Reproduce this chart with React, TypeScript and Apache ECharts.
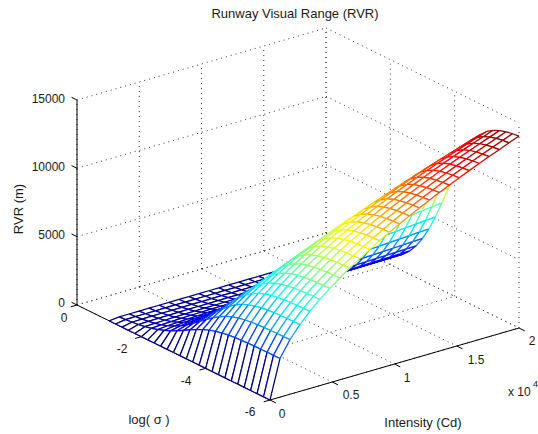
import React, { useEffect, useRef } from "react";
import * as echarts from "echarts";

// Tick labels
const zTicks = [0, 5000, 10000, 15000];
const sTicks = [0, -2, -4, -6];
const iTicks = [0, 5000, 10000, 15000, 20000];
const zTickLabels = ["0", "5000", "10000", "15000"];
const sTickLabels = ["0", "-2", "-4", "-6"];
const iTickLabels = ["0", "0.5", "1", "1.5", "2"];

// Mesh lines
const logSigma = [-6, -5.8, -5.6, -5.4, -5.2, -5, -4.8, -4.6, -4.4, -4.2, -4, -3.8, -3.6, -3.4, -3.2, -3, -2.8, -2.6, -2.4, -2.2, -2, -1.8, -1.6, -1.4, -1.2, -1];
const intensity = [0, 800, 1600, 2400, 3200, 4000, 4800, 5600, 6400, 7200, 8000, 8800, 9600, 10400, 11200, 12000, 12800, 13600, 14400, 15200, 16000, 16800, 17600, 18400, 19200, 20000];

// Estimated RVR (m) per intensity line, listed from log(sigma) = -6 to -1.
// Visible edges and arcs were read from the picture; hidden cells are hand estimates guided by Allard's law.
const rvr0 = [0, 0, 0, 0, 0, 0, 0, 0, 0, 0, 0, 0, 0, 0, 0, 0, 0, 0, 0, 0, 0, 0, 0, 0, 0, 0];
const rvr800 = [2824, 2822, 2818, 2812, 2803, 2788, 2766, 2731, 2679, 2602, 2493, 2344, 2154, 1925, 1669, 1404, 1146, 909, 705, 534, 397, 291, 210, 150, 106, 74];
const rvr1600 = [3992, 3987, 3979, 3968, 3949, 3921, 3876, 3809, 3710, 3568, 3372, 3117, 2807, 2454, 2080, 1711, 1367, 1066, 813, 607, 447, 324, 232, 164, 115, 80];
const rvr2400 = [4887, 4880, 4869, 4852, 4825, 4783, 4718, 4621, 4479, 4278, 4006, 3661, 3253, 2801, 2339, 1896, 1496, 1153, 869, 644, 470, 338, 240, 170, 118, 82];
const rvr3200 = [5641, 5631, 5616, 5593, 5557, 5500, 5415, 5287, 5103, 4846, 4505, 4084, 3596, 3069, 2542, 2044, 1602, 1227, 920, 679, 494, 354, 251, 177, 123, 85];
const rvr4000 = [6304, 6292, 6274, 6245, 6199, 6129, 6023, 5866, 5642, 5332, 4929, 4439, 3880, 3289, 2705, 2162, 1686, 1285, 960, 706, 512, 366, 259, 182, 126, 87];
const rvr4800 = [6903, 6889, 6867, 6832, 6778, 6695, 6571, 6385, 6122, 5763, 5301, 4745, 4121, 3472, 2838, 2256, 1750, 1328, 989, 725, 524, 374, 264, 185, 129, 89];
const rvr5600 = [7455, 7438, 7414, 7373, 7311, 7215, 7072, 6860, 6561, 6155, 5638, 5021, 4337, 3635, 2953, 2336, 1800, 1364, 1012, 739, 533, 380, 268, 187, 130, 89];
const rvr6400 = [7968, 7949, 7921, 7875, 7805, 7698, 7534, 7299, 6965, 6515, 5943, 5268, 4529, 3775, 3052, 2404, 1850, 1392, 1036, 751, 539, 383, 270, 188, 130, 89];
const rvr7200 = [8448, 8427, 8395, 8343, 8264, 8142, 7960, 7696, 7325, 6830, 6211, 5488, 4700, 3905, 3149, 2473, 1899, 1427, 1054, 768, 551, 391, 275, 192, 133, 91];
const rvr8000 = [8903, 8880, 8844, 8786, 8698, 8563, 8361, 8071, 7666, 7130, 6465, 5693, 4861, 4027, 3239, 2539, 1945, 1459, 1077, 783, 562, 398, 280, 195, 135, 93];
const rvr8800 = [9336, 9310, 9270, 9206, 9109, 8960, 8740, 8422, 7983, 7405, 6694, 5876, 5002, 4130, 3314, 2591, 1981, 1484, 1093, 794, 569, 403, 283, 197, 136, 94];
const rvr9600 = [9749, 9721, 9677, 9608, 9502, 9341, 9102, 8760, 8288, 7671, 6917, 6055, 5141, 4234, 3389, 2645, 2018, 1510, 1111, 806, 577, 409, 287, 199, 138, 95];
const rvr10400 = [10145, 10114, 10067, 9992, 9877, 9703, 9447, 9080, 8574, 7919, 7122, 6218, 5264, 4325, 3453, 2689, 2048, 1529, 1124, 815, 583, 412, 289, 201, 139, 95];
const rvr11200 = [10526, 10493, 10442, 10362, 10239, 10053, 9778, 9387, 8851, 8158, 7320, 6374, 5383, 4412, 3515, 2732, 2077, 1549, 1137, 823, 588, 416, 291, 202, 140, 96];
const rvr12000 = [10893, 10859, 10804, 10718, 10588, 10390, 10099, 9684, 9119, 8390, 7512, 6527, 5500, 4498, 3575, 2775, 2105, 1569, 1150, 832, 593, 420, 294, 204, 141, 96];
const rvr12800 = [11249, 11213, 11154, 11064, 10925, 10717, 10407, 9970, 9373, 8609, 7692, 6668, 5605, 4573, 3629, 2811, 2130, 1584, 1160, 838, 597, 422, 295, 205, 141, 97];
const rvr13600 = [11593, 11555, 11493, 11397, 11250, 11028, 10703, 10242, 9615, 8815, 7860, 6797, 5701, 4640, 3674, 2841, 2149, 1596, 1168, 842, 600, 424, 296, 205, 141, 97];
const rvr14400 = [11927, 11887, 11822, 11721, 11567, 11333, 10992, 10509, 9853, 9019, 8027, 6927, 5798, 4709, 3722, 2873, 2170, 1609, 1176, 847, 603, 426, 297, 206, 142, 97];
const rvr15200 = [12253, 12210, 12142, 12036, 11874, 11629, 11272, 10767, 10082, 9214, 8185, 7049, 5887, 4772, 3764, 2901, 2187, 1620, 1183, 851, 605, 427, 297, 207, 142, 97];
const rvr16000 = [12569, 12525, 12453, 12343, 12173, 11918, 11544, 11017, 10303, 9403, 8338, 7167, 5974, 4833, 3805, 2928, 2205, 1630, 1190, 855, 607, 428, 298, 207, 142, 97];
const rvr16800 = [12877, 12830, 12753, 12637, 12458, 12189, 11798, 11248, 10507, 9575, 8478, 7277, 6058, 4894, 3850, 2960, 2226, 1646, 1200, 862, 612, 431, 300, 209, 143, 98];
const rvr17600 = [13177, 13128, 13047, 12925, 12738, 12456, 12048, 11475, 10707, 9738, 8616, 7386, 6140, 4956, 3895, 2992, 2249, 1662, 1211, 869, 617, 435, 302, 210, 144, 99];
const rvr18400 = [13472, 13420, 13336, 13208, 13011, 12717, 12292, 11693, 10900, 9900, 8748, 7488, 6218, 5012, 3932, 3020, 2269, 1675, 1220, 876, 622, 437, 305, 211, 145, 99];
const rvr19200 = [13759, 13704, 13617, 13483, 13279, 12974, 12532, 11915, 11094, 10073, 8884, 7596, 6301, 5075, 3981, 3053, 2292, 1692, 1232, 884, 627, 441, 306, 213, 146, 100];
const rvr20000 = [14041, 13983, 13892, 13752, 13539, 13221, 12762, 12122, 11273, 10222, 9002, 7687, 6367, 5122, 4014, 3076, 2307, 1702, 1239, 888, 630, 443, 308, 214, 147, 100];
const rvrColumns = [rvr0, rvr800, rvr1600, rvr2400, rvr3200, rvr4000, rvr4800, rvr5600, rvr6400, rvr7200, rvr8000, rvr8800, rvr9600, rvr10400, rvr11200, rvr12000, rvr12800, rvr13600, rvr14400, rvr15200, rvr16000, rvr16800, rvr17600, rvr18400, rvr19200, rvr20000];

const I_MAX = 20000, S_MIN = -6, Z_MAX = 15000, Z_TOP = 14041;

function project(i: number, s: number, z: number): [number, number] {
  const a = s / S_MIN, b = i / I_MAX, c = z / Z_MAX;
  return [77 + 193 * a + 249 * b, 305 + 95 * a - 72 * b - 205 * c];
}

function clamp01(v: number) { return Math.max(0, Math.min(1, v)); }
function jet(z: number) {
  const t = (Math.min(63, Math.floor((z / Z_TOP) * 64)) + 0.5) / 64;
  const r = clamp01(Math.min(4 * t - 1.5, -4 * t + 4.5));
  const g = clamp01(Math.min(4 * t - 0.5, -4 * t + 3.5));
  const b = clamp01(Math.min(4 * t + 0.5, -4 * t + 2.5));
  return `rgb(${Math.round(r * 255)},${Math.round(g * 255)},${Math.round(b * 255)})`;
}

type Seg = [number, number, number, number, number, number, number];
const DOT = 0, SOLID = 1;
function boxSegments(): Seg[] {
  const out: Seg[] = [];
  // walls & floor grid (dotted)
  for (const z of zTicks) {
    out.push([0, 0, z, I_MAX, 0, z, DOT]);
    out.push([I_MAX, 0, z, I_MAX, S_MIN, z, DOT]);
  }
  for (const i of iTicks) {
    out.push([i, 0, 0, i, 0, Z_MAX, DOT]);
    out.push([i, 0, 0, i, S_MIN, 0, DOT]);
  }
  for (const s of sTicks) {
    out.push([I_MAX, s, 0, I_MAX, s, Z_MAX, DOT]);
    out.push([0, s, 0, I_MAX, s, 0, DOT]);
  }
  // axes (solid)
  out.push([0, 0, 0, 0, 0, Z_MAX, SOLID]);
  out.push([0, 0, 0, 0, S_MIN, 0, SOLID]);
  out.push([0, S_MIN, 0, I_MAX, S_MIN, 0, SOLID]);
  // tick marks
  for (const z of zTicks) out.push([0, 0, z, 0, 0.17, z, SOLID]);
  for (const s of sTicks) out.push([0, s, 0, -500, s, 0, SOLID]);
  for (const i of iTicks) out.push([i, S_MIN, 0, i, S_MIN - 0.18, 0, SOLID]);
  return out;
}

function cells(): number[][] {
  // far-to-near order so nearer cells hide farther ones
  const out: number[][] = [];
  for (let j = logSigma.length - 2; j >= 0; j--) {
    for (let k = intensity.length - 2; k >= 0; k--) out.push([j, k]);
  }
  return out;
}

const FONT = "Liberation Sans";
const TEXT = "#1a1a1a";
function label(text: string, x: number, y: number, align = "center", size = 12, extra: any = {}) {
  return {
    type: "text", x, y,
    style: { text, fill: TEXT, font: `${size}px "${FONT}"`, textAlign: align, textVerticalAlign: "middle" },
    ...extra,
  };
}

export default function App() {
  const ref = useRef<HTMLDivElement>(null);
  useEffect(() => {
    document.body.style.margin = "0";
    const chart = echarts.init(ref.current!, undefined, { renderer: "svg" });

    const zLabelPos: [number, number][] = [[65, 303], [65, 235], [65, 167], [65, 99]];
    const sLabelPos: [number, number][] = [[64, 318], [122, 349], [186, 381], [250, 412]];
    const iLabelPos: [number, number][] = [[282, 414], [351, 395], [407, 378], [476, 360], [532, 341]];

    chart.setOption({
      animation: false,
      backgroundColor: "#fff",
      grid: { left: 0, right: 0, top: 0, bottom: 0 },
      xAxis: { type: "value", min: 0, max: 538, show: false },
      yAxis: { type: "value", min: 0, max: 434, inverse: true, show: false },
      graphic: [
        label("Runway Visual Range (RVR)", 295, 13, "center", 13),
        label("RVR (m)", 18, 209, "center", 13, { rotation: Math.PI / 2 }),
        label("log( σ )", 149, 419, "center", 13),
        label("Intensity (Cd)", 423, 422, "center", 13),
        label("x 10", 508, 392, "left"),
        { type: "text", x: 533, y: 384, style: { text: "4", fill: TEXT, font: `9px "${FONT}"`, textAlign: "left", textVerticalAlign: "middle" } },
        ...zTickLabels.map((t, n) => label(t, zLabelPos[n][0], zLabelPos[n][1], "right")),
        ...sTickLabels.map((t, n) => label(t, sLabelPos[n][0], sLabelPos[n][1])),
        ...iTickLabels.map((t, n) => label(t, iLabelPos[n][0], iLabelPos[n][1])),
      ],
      series: [
        {
          type: "custom",
          silent: true,
          clip: false,
          coordinateSystem: "cartesian2d",
          data: boxSegments(),
          encode: { x: 0, y: 1 },
          renderItem: (_p: any, api: any) => {
            const a = api.coord(project(api.value(0), api.value(1), api.value(2)));
            const b = api.coord(project(api.value(3), api.value(4), api.value(5)));
            const solid = api.value(6) === SOLID;
            return {
              type: "line",
              shape: { x1: a[0], y1: a[1], x2: b[0], y2: b[1] },
              style: solid
                ? { stroke: "#000", lineWidth: 1, fill: "none" }
                : { stroke: "#333", lineWidth: 1, lineDash: [1, 4], fill: "none" },
            };
          },
        },
        {
          type: "custom",
          silent: true,
          clip: false,
          progressive: 0,
          coordinateSystem: "cartesian2d",
          data: cells(),
          encode: { x: 0, y: 1 },
          renderItem: (_p: any, api: any) => {
            const j = api.value(0), k = api.value(1);
            const pt = (jj: number, kk: number) =>
              api.coord(project(intensity[kk], logSigma[jj], rvrColumns[kk][jj]));
            const p00 = pt(j, k), p10 = pt(j + 1, k), p11 = pt(j + 1, k + 1), p01 = pt(j, k + 1);
            const edge = (p: number[], q: number[], jj: number, kk: number) => ({
              type: "line",
              shape: { x1: p[0], y1: p[1], x2: q[0], y2: q[1] },
              style: { stroke: jet(rvrColumns[kk][jj]), lineWidth: 1.25, fill: "none" },
            });
            return {
              type: "group",
              children: [
                { type: "polygon", shape: { points: [p00, p10, p11, p01] }, style: { fill: "#fff", stroke: "none" } },
                edge(p00, p10, j, k),
                edge(p10, p11, j + 1, k),
                edge(p11, p01, j, k + 1),
                edge(p01, p00, j, k),
              ],
            };
          },
        },
      ],
    });
    return () => chart.dispose();
  }, []);
  return <div ref={ref} style={{ width: 538, height: 434 }} />;
}
